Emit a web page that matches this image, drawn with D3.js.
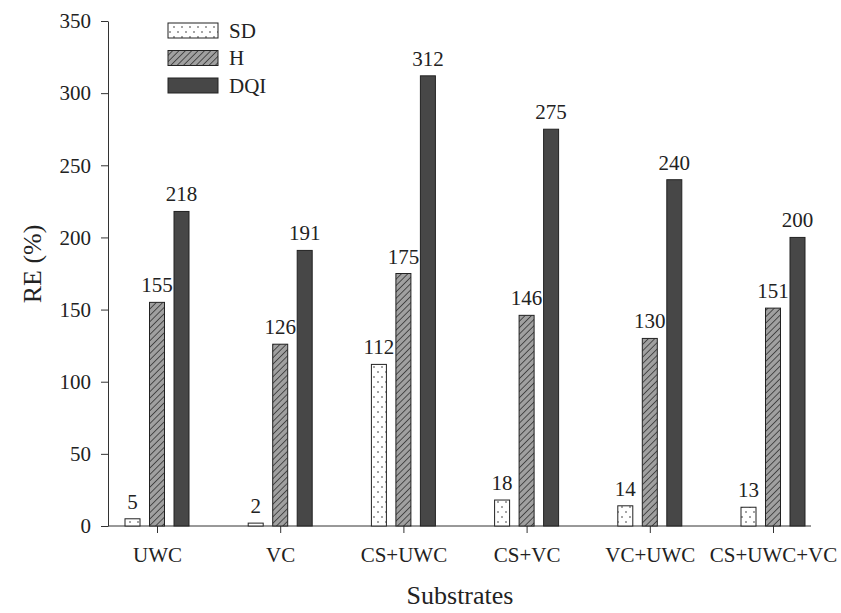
<!DOCTYPE html>
<html><head><meta charset="utf-8">
<script src="https://cdn.jsdelivr.net/npm/d3@7"></script>
<style>body{margin:0;background:#fff}svg{display:block}text{font-family:"Liberation Serif","Times New Roman",serif;fill:#222}</style>
</head><body>
<svg id="c" width="841" height="613"></svg>
<script>
const categories = ["UWC","VC","CS+UWC","CS+VC","VC+UWC","CS+UWC+VC"];
const seriesNames = ["SD","H","DQI"];
const sdValues = [5,2,112,18,14,13];
const hValues = [155,126,175,146,130,151];
const dqiValues = [218,191,312,275,240,200];
const yTicks = [0,50,100,150,200,250,300,350];

const FONT = "Liberation Serif";
const svg = d3.select("#c");
const defs = svg.append("defs");
// dotted pattern
const pd = defs.append("pattern").attr("id","dots").attr("patternUnits","userSpaceOnUse").attr("width",8).attr("height",10);
pd.append("rect").attr("width",8).attr("height",10).attr("fill","#fff");
pd.append("circle").attr("cx",2).attr("cy",2).attr("r",0.8).attr("fill","#333");
pd.append("circle").attr("cx",6).attr("cy",7).attr("r",0.8).attr("fill","#333");
// hatch pattern
const ph = defs.append("pattern").attr("id","hatch").attr("patternUnits","userSpaceOnUse").attr("width",4.5).attr("height",4.5).attr("patternTransform","rotate(45)");
ph.append("rect").attr("width",4.5).attr("height",4.5).attr("fill","#a0a0a0");
ph.append("line").attr("x1",0).attr("y1",0).attr("x2",0).attr("y2",4.5).attr("stroke","#333").attr("stroke-width",1.6);

const fills = {SD:"url(#dots)", H:"url(#hatch)", DQI:"#474747"};
const valuesBySeries = {SD:sdValues, H:hValues, DQI:dqiValues};

const x = d3.scalePoint().domain(categories).range([157,773]);
const y = d3.scaleLinear().domain([0,350]).range([526,21]);
const offset = d3.scalePoint().domain(seriesNames).range([-24.5,24.5]);
const bw = 15;

// y axis
const ya = svg.append("g").attr("transform","translate(108,0)")
  .call(d3.axisLeft(y).tickValues(yTicks).tickSize(7).tickSizeOuter(0).tickPadding(10));
ya.attr("font-family",FONT);
ya.select(".domain").attr("stroke","#333");
ya.selectAll(".tick line").attr("stroke","#333");
ya.selectAll("text").style("font-size","21px").attr("fill","#222").style("font-family",FONT);

// x axis
const xa = svg.append("g").attr("transform","translate(0,526)")
  .call(d3.axisBottom(x).tickSize(7).tickPadding(14));
xa.attr("font-family",FONT);
xa.select(".domain").remove();
xa.selectAll(".tick line").attr("stroke","#333");
xa.selectAll("text").style("font-size","21px").attr("fill","#222").style("font-family",FONT);
svg.append("line").attr("x1",108).attr("x2",811).attr("y1",526).attr("y2",526).attr("stroke","#333");

// bars
seriesNames.forEach(s => {
  const vals = valuesBySeries[s];
  const g = svg.append("g");
  g.selectAll("rect").data(categories).join("rect")
    .attr("x",(c)=>x(c)+offset(s)-bw/2)
    .attr("y",(c,i)=>y(vals[i]))
    .attr("width",bw)
    .attr("height",(c,i)=>y(0)-y(vals[i]))
    .attr("fill",fills[s]).attr("stroke","#222").attr("stroke-width",1);
  g.selectAll("text").data(categories).join("text")
    .attr("x",(c)=>x(c)+offset(s))
    .attr("y",(c,i)=>y(vals[i])-10)
    .attr("text-anchor","middle").style("font-size","21px")
    .text((c,i)=>vals[i]);
});

// legend
seriesNames.forEach((s,i)=>{
  const yy = 23 + i*27.5;
  svg.append("rect").attr("x",168).attr("y",yy).attr("width",50).attr("height",15)
    .attr("fill",fills[s]).attr("stroke","#222");
  svg.append("text").attr("x",229).attr("y",yy+14.5).style("font-size","21px").text(s);
});

// axis titles
svg.append("text").attr("transform","translate(41,264) rotate(-90)").attr("text-anchor","middle")
  .style("font-size","26px").text("RE (%)");
svg.append("text").attr("x",460).attr("y",604).attr("text-anchor","middle")
  .style("font-size","26px").text("Substrates");
</script>
</body></html>
